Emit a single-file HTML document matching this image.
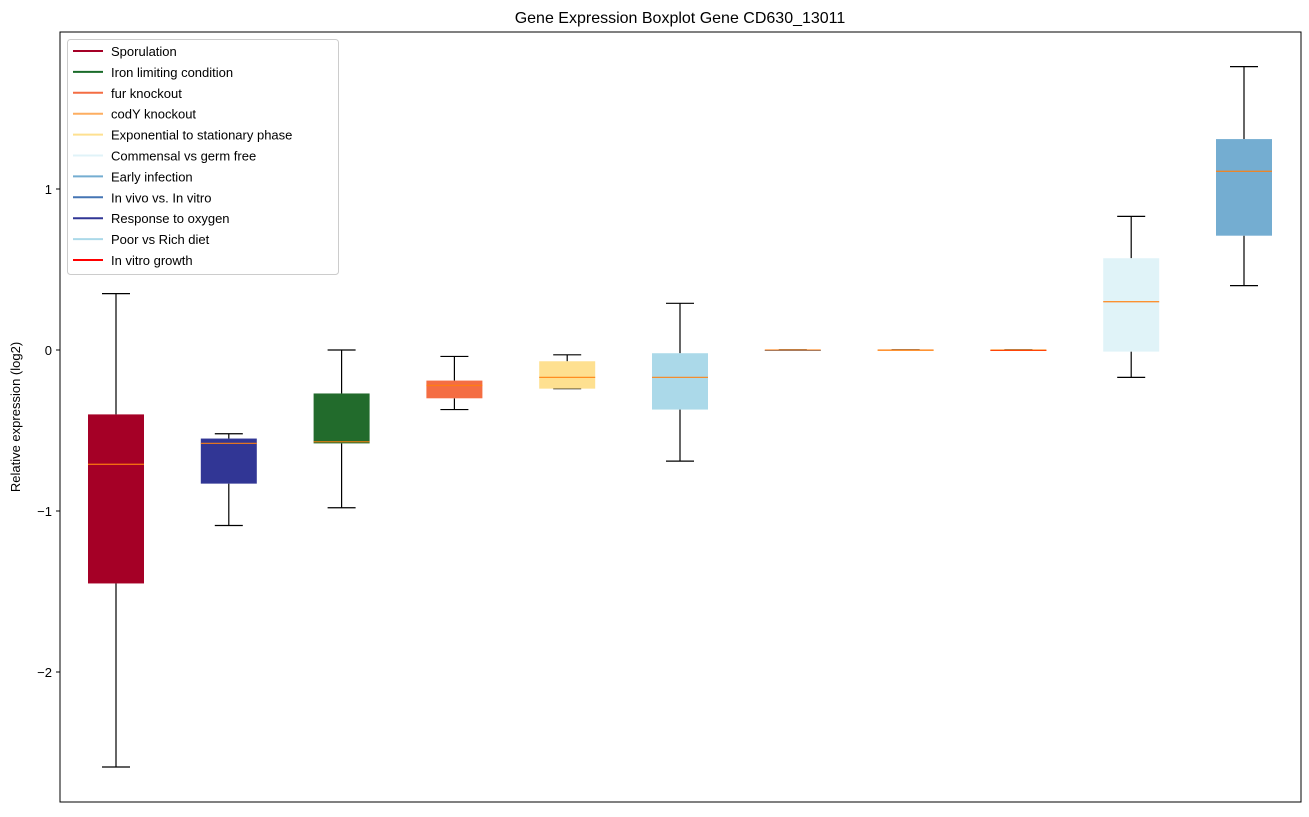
<!DOCTYPE html>
<html><head><meta charset="utf-8"><style>
body{margin:0;background:#fff;font-family:"Liberation Sans","DejaVu Sans",sans-serif;}
</style></head><body>
<svg id="c" width="1309" height="812" xmlns="http://www.w3.org/2000/svg" font-family="Liberation Sans, DejaVu Sans, sans-serif"></svg>
<script>
const categories=["Sporulation","Response to oxygen","Iron limiting condition","fur knockout","Exponential to stationary phase","Poor vs Rich diet","In vivo vs. In vitro","codY knockout","In vitro growth","Commensal vs germ free","Early infection"];
const whiskerHigh=[0.35,-0.52,0.0,-0.04,-0.03,0.29,0,0,0,0.83,1.76];
const q3=[-0.40,-0.55,-0.27,-0.19,-0.07,-0.02,0,0,0,0.57,1.31];
const medians=[-0.71,-0.58,-0.57,-0.22,-0.17,-0.17,0,0,0,0.30,1.11];
const q1=[-1.45,-0.83,-0.58,-0.30,-0.24,-0.37,0,0,0,-0.01,0.71];
const whiskerLow=[-2.59,-1.09,-0.98,-0.37,-0.24,-0.69,0,0,0,-0.17,0.40];
const boxColors=["#a50026","#313695","#226b2c","#f46d43","#fee090","#abd9e9","#4575b4","#fdae61","#ff0000","#e0f3f8","#74add1"];
const yTicks=[1,0,-1,-2];
const yTickLabels=["1","0","\u22121","\u22122"];
const legendLabels=["Sporulation","Iron limiting condition","fur knockout","codY knockout","Exponential to stationary phase","Commensal vs germ free","Early infection","In vivo vs. In vitro","Response to oxygen","Poor vs Rich diet","In vitro growth"];
const legendColors=["#a50026","#1a6b2a","#f46d43","#fdae61","#fee090","#e0f3f8","#74add1","#4575b4","#313695","#abd9e9","#ff0000"];

const NS="http://www.w3.org/2000/svg";
const svg=document.getElementById('c');
const L=60,R=1301,T=32,B=802;
const y=v=>350-v*161;
const x=i=>116+i*112.8;
function mk(tag,attrs,parent){const e=document.createElementNS(NS,tag);for(const k in attrs)e.setAttribute(k,attrs[k]);(parent||svg).appendChild(e);return e;}

const title=mk('text',{x:680,y:23,'text-anchor':'middle','font-size':16,fill:'#000'});
title.textContent="Gene Expression Boxplot Gene CD630_13011";



const yl=mk('text',{x:20,y:417,'text-anchor':'middle','font-size':13,transform:'rotate(-90 20 417)'});
yl.textContent="Relative expression (log2)";



yTicks.forEach((t,i)=>{
  const g=mk('g',{});
  
  
  mk('line',{x1:L-4,x2:L,y1:y(t),y2:y(t),stroke:'#000'},g);
  const tx=mk('text',{x:L-8,y:y(t)+5,'text-anchor':'end','font-size':13},g);
  tx.textContent=yTickLabels[i];
});

categories.forEach((c,i)=>{
  const g=mk('g',{});
  
  
  const cx=x(i),hw=28,cw=14;
  mk('line',{x1:cx,x2:cx,y1:y(whiskerHigh[i]),y2:y(q3[i]),stroke:'#000','stroke-width':1.2},g);
  mk('line',{x1:cx,x2:cx,y1:y(q1[i]),y2:y(whiskerLow[i]),stroke:'#000','stroke-width':1.2},g);
  mk('line',{x1:cx-cw,x2:cx+cw,y1:y(whiskerHigh[i]),y2:y(whiskerHigh[i]),stroke:'#000','stroke-width':1.2},g);
  mk('line',{x1:cx-cw,x2:cx+cw,y1:y(whiskerLow[i]),y2:y(whiskerLow[i]),stroke:'#000','stroke-width':1.2},g);
  mk('rect',{x:cx-hw,y:y(q3[i]),width:hw*2,height:Math.max(y(q1[i])-y(q3[i]),1),fill:boxColors[i]},g);
  mk('line',{x1:cx-hw,x2:cx+hw,y1:y(medians[i]),y2:y(medians[i]),stroke:'#ff7f0e','stroke-width':1.3,'stroke-opacity':0.85},g);
});

mk('rect',{x:L,y:T,width:R-L,height:B-T,fill:'none',stroke:'#000','stroke-width':1});

const lg=mk('g',{});


mk('rect',{x:67.5,y:39.5,width:271,height:235,fill:'#fff','fill-opacity':0.8,stroke:'#ccc',rx:3},lg);
legendLabels.forEach((l,i)=>{
  const e=mk('g',{},lg);
  
  
  const yy=51+i*20.9;
  mk('line',{x1:73,x2:103,y1:yy,y2:yy,stroke:legendColors[i],'stroke-width':2},e);
  const t=mk('text',{x:111,y:yy+5,'font-size':13},e);
  t.textContent=l;
});
</script>
</body></html>
